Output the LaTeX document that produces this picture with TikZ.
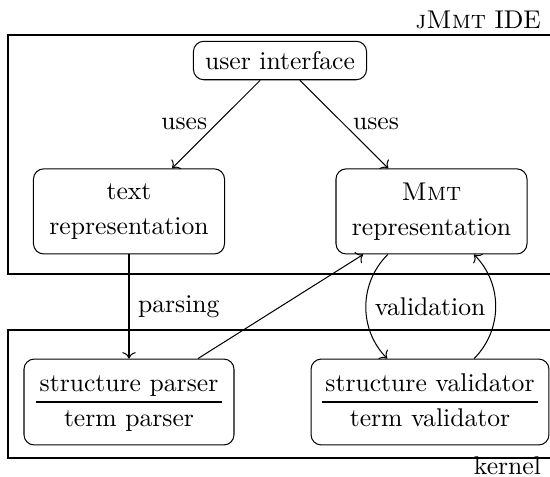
\documentclass[tikz,border=0pt]{standalone}
\usepackage{tikz}
\usetikzlibrary{arrows.meta}
\renewcommand{\arraystretch}{1.1}

\begin{document}
\begin{tikzpicture}[x=0.39pt,y=-0.39pt,
  box/.style={draw,rounded corners=4pt,align=center,inner sep=0pt},
  twoline/.style={box,minimum width=74.5pt,minimum height=33.2pt},
  splitbox/.style={box,minimum height=33.5pt}]
\useasboundingbox (0,0) rectangle (550,476);
% IDE layer
\draw (8,35) rectangle (580,274);
\node[anchor=base east] (ide) at (550,28.5) {\textsc{jMmt} IDE};
\node[box,minimum width=67.5pt,minimum height=15pt] (ui) at (280,60.5) {user interface};
\node[twoline] (txt) at (129,211.4) {text\\[1.6pt]representation};
\node[twoline] (mmt) at (431.5,211.4) {\textsc{Mmt}\\[1.6pt]representation};
% kernel layer
\draw (8,330) rectangle (580,458);
\node[anchor=base east] (kernel) at (550,474) {kernel};
\node[splitbox,minimum width=81.9pt] (parser) at (129,402)
  {\begin{tabular}{@{\hspace{1.5pt}}c@{\hspace{1.5pt}}}structure parser\\\hline term parser\end{tabular}};
\node[splitbox,minimum width=92.8pt] (val) at (430,402)
  {\begin{tabular}{@{\hspace{1.5pt}}c@{\hspace{1.5pt}}}structure validator\\\hline term validator\end{tabular}};
% connections
\draw[->] (ui) -- node[left]{uses} (txt);
\draw[->] (ui) -- node[right]{uses} (mmt);
\draw[->] (txt) -- node[right]{parsing} (parser);
\draw[->] (parser) -- (mmt);
\draw[->] (mmt) to[bend right=45] node[right]{validation} (val);
\draw[->] (val) to[bend right=45] (mmt);
\end{tikzpicture}
\end{document}
